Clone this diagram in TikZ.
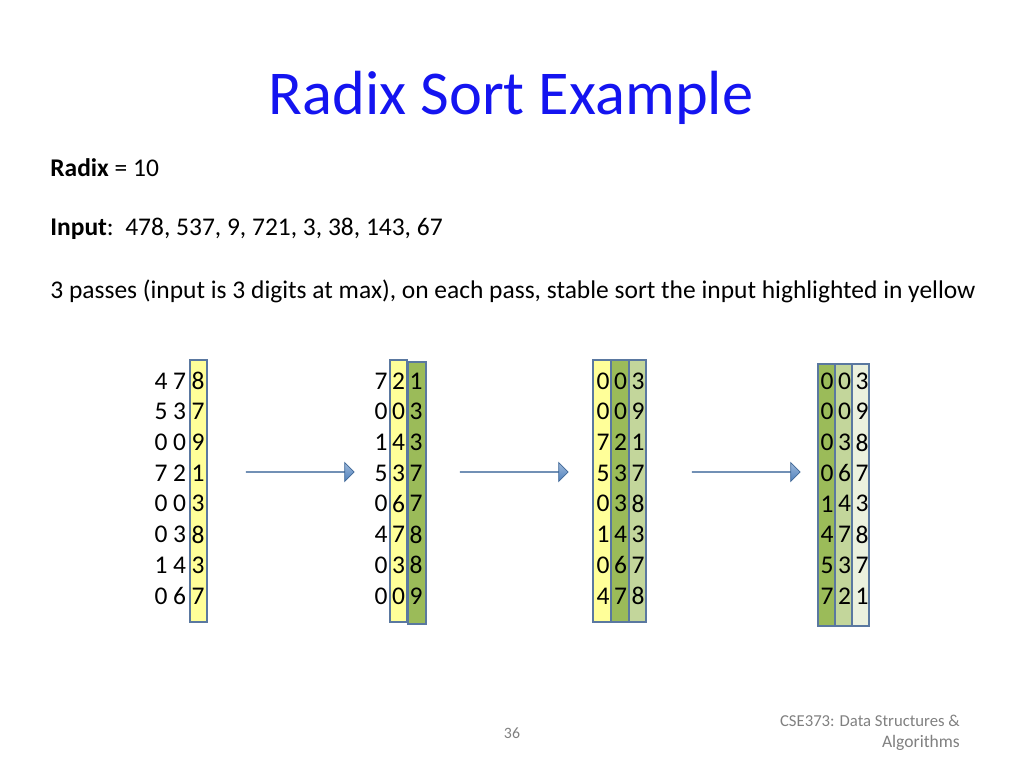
\documentclass[tikz,border=0pt]{standalone}
\usepackage{fontspec}
\setmainfont{Carlito}
\usetikzlibrary{shapes.arrows}
\definecolor{titleblue}{RGB}{20,20,240}
\definecolor{ylw}{RGB}{255,255,153}
\definecolor{dgreen}{RGB}{155,187,89}
\definecolor{lgreen}{RGB}{195,214,155}
\definecolor{vlgreen}{RGB}{235,241,222}
\definecolor{edge}{RGB}{90,120,160}
\definecolor{arrblue}{RGB}{79,129,189}
\tikzset{
  strip/.style={draw=edge, line width=0.6pt},
  digit/.style={inner sep=0pt, font=\fontsize{14.5}{14.5}\selectfont},
  bodytext/.style={anchor=west, inner sep=0pt, font=\fontsize{14.5}{14.5}\selectfont},
  bigarrow/.style={single arrow, draw=arrblue!80!black, line width=0.4pt,
    top color=arrblue!55, bottom color=arrblue, shading angle=0,
    minimum height=108*0.02cm, minimum width=19*0.02cm,
    single arrow head extend=9*0.02cm, single arrow head indent=0pt,
    inner sep=0pt}
}
\begin{document}
\begin{tikzpicture}[x=0.02cm, y=-0.02cm]
    \useasboundingbox (0,0) rectangle (1024,768);
    \node (title) at (511,98) {\fontsize{35.5}{35.5}\selectfont\color{titleblue}Radix Sort Example};
    \node[bodytext] (radix) at (50,168) {\textbf{Radix} = 10};
    \node[bodytext] (input) at (50,229) {\textbf{Input}:\ \ 478, 537, 9, 721, 3, 38, 143, 67};
    \node[bodytext] (passes) at (50,291) {3 passes (input is 3 digits at max), on each pass, stable sort the input highlighted in yellow};

    % strips
    \filldraw[strip, fill=ylw] (190,360) rectangle (207,622);
    \filldraw[strip, fill=ylw] (390,360) rectangle (407,622);
    \filldraw[strip, fill=dgreen] (408,362) rectangle (426,624);
    \filldraw[strip, fill=ylw] (593,360) rectangle (611,622);
    \filldraw[strip, fill=dgreen] (611,360) rectangle (629,622);
    \filldraw[strip, fill=lgreen] (629,360) rectangle (646,622);
    \filldraw[strip, fill=dgreen] (818,364) rectangle (835,626);
    \filldraw[strip, fill=lgreen] (835,364) rectangle (852,626);
    \filldraw[strip, fill=vlgreen] (852,364) rectangle (869,626);

    % digits, one node per digit
    \foreach \colx/\list [count=\c] in {161/{4/7/8,5/3/7,0/0/9,7/2/1,0/0/3,0/3/8,1/4/3,0/6/7},
        381/{7/2/1,0/0/3,1/4/3,5/3/7,0/6/7,4/7/8,0/3/8,0/0/9},
        603/{0/0/3,0/0/9,7/2/1,5/3/7,0/3/8,1/4/3,0/6/7,4/7/8},
        827/{0/0/3,0/0/9,0/3/8,0/6/7,1/4/3,4/7/8,5/3/7,7/2/1}} {
      \foreach \ha/\te/\on [count=\r] in \list {
        \node[digit] (d\c-\r-a) at ({\colx},{381+30.7*(\r-1)}) {\ha};
        \node[digit] (d\c-\r-b) at ({\colx+(\c==1 ? 18.5 : 17.5)},{381+30.7*(\r-1)}) {\te};
        \node[digit] (d\c-\r-c) at ({\colx+(\c==1 ? 37 : 35)},{381+30.7*(\r-1)}) {\on};
      }
    }

    % arrows
    \node[bigarrow] (a1) at (300,472) {};
    \node[bigarrow] (a2) at (514,472) {};
    \node[bigarrow] (a3) at (746,472) {};

    \node (page) at (512,733) {\fontsize{9}{9}\selectfont\color{gray}36};
    \node[align=right, anchor=east] (course) at (966,733)
      {\fontsize{9.5}{11.5}\selectfont\color{gray}CSE373: Data Structures \&\\ \color{gray}Algorithms};
\end{tikzpicture}
\end{document}
